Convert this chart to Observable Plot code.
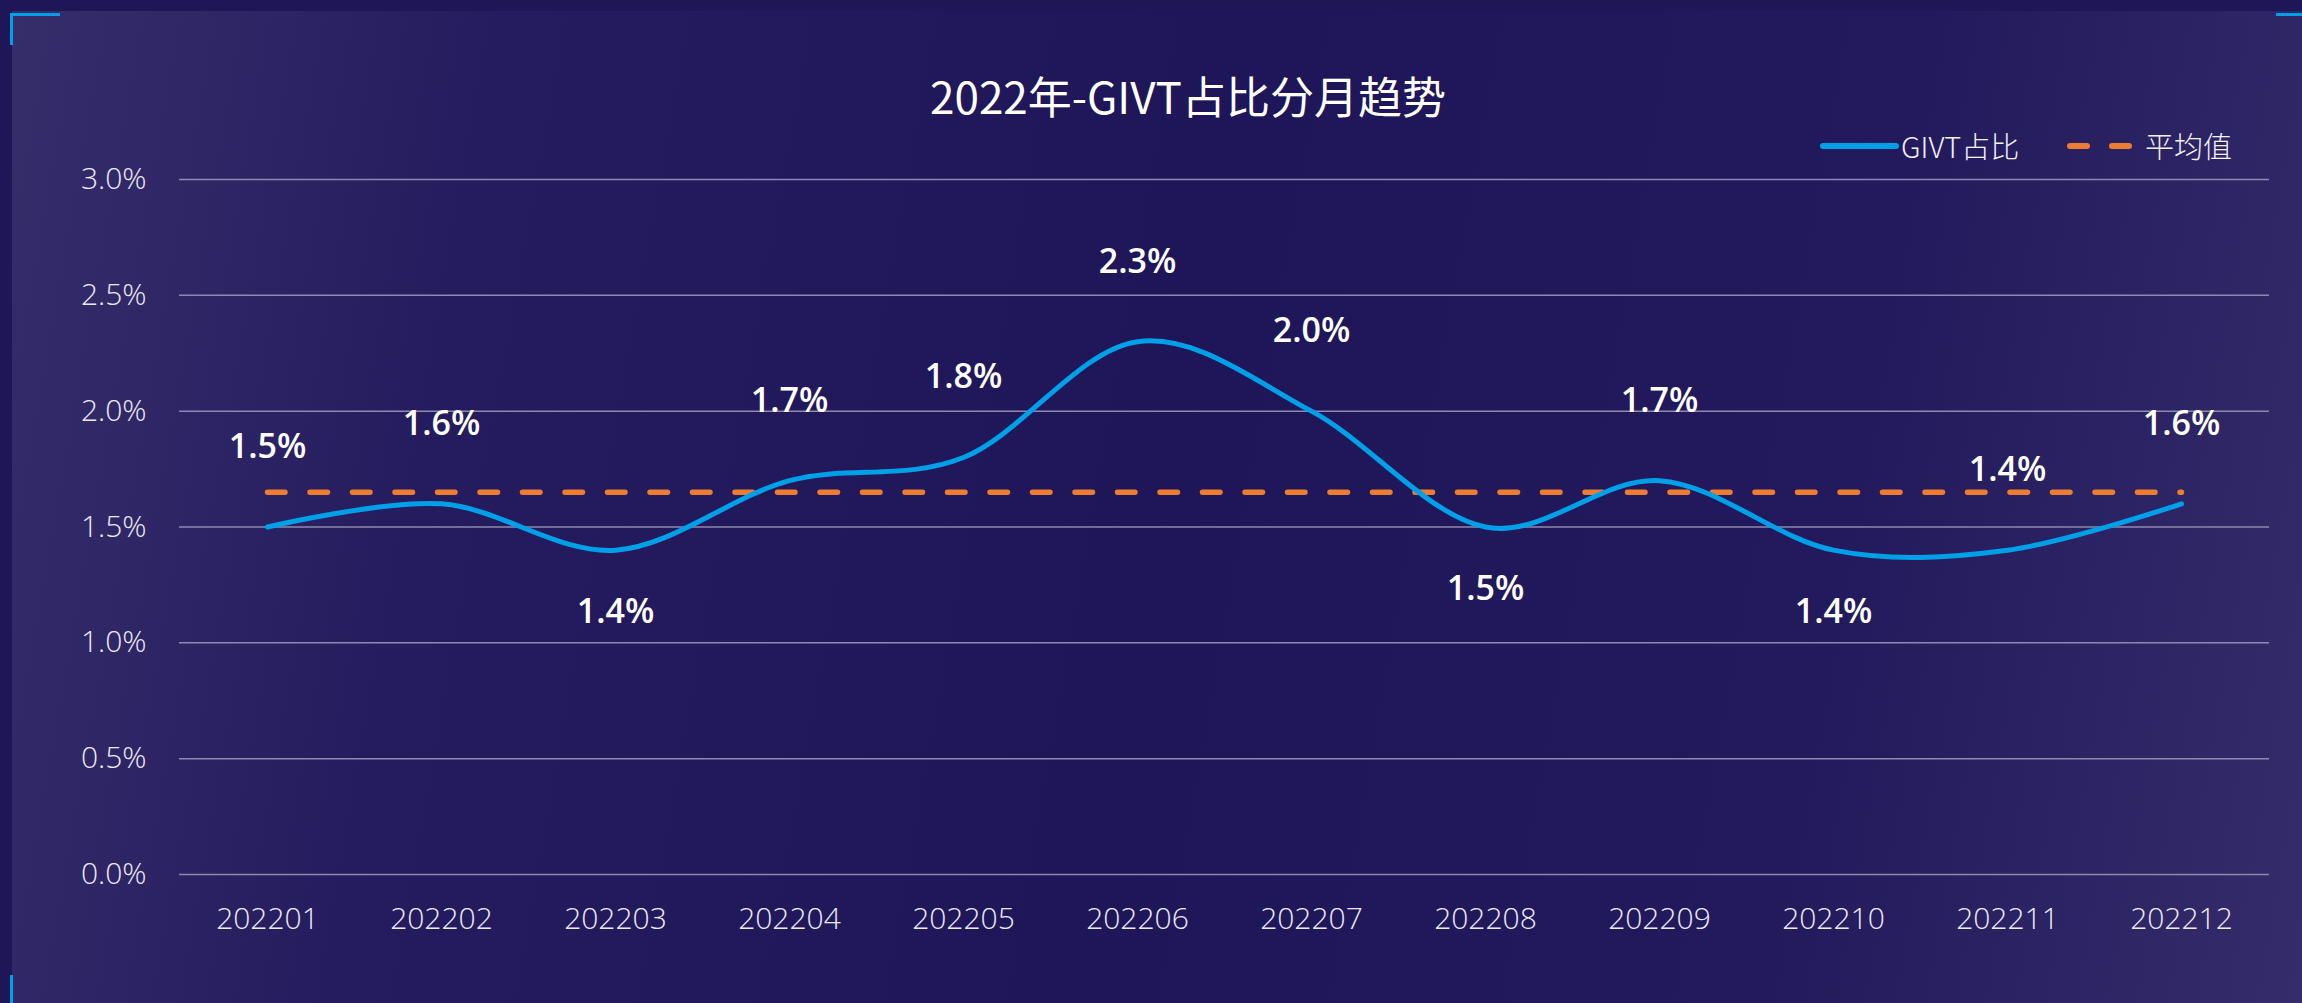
<!DOCTYPE html>
<html>
<head>
<meta charset="utf-8">
<script src="https://cdn.jsdelivr.net/npm/d3@7"></script>
<script src="https://cdn.jsdelivr.net/npm/@observablehq/plot@0.6"></script>
<style>
html, body { margin: 0; padding: 0; }
body { width: 2302px; height: 1003px; background: #1f1658; position: relative; overflow: hidden;
       font-family: "Open Sans", "Noto Sans CJK SC", sans-serif; }
#panel { position: absolute; left: 12px; top: 11px; width: 2290px; height: 992px;
         background: linear-gradient(100deg, #362e6b 0%, #241c5e 20%, #1e1658 50%, #221a5c 78%, #352c6b 100%); }
.br { position: absolute; background: #009fe8; }
#title { position: absolute; top: 73px; left: 1188px; transform: translateX(-50%); white-space: nowrap;
         color: #ffffff; font-size: 44px; line-height: 44px; font-family: "Noto Sans CJK SC", sans-serif; font-weight: 400; }
.lg { position: absolute; top: 131px; height: 29px; line-height: 29px; font-size: 29px; color: #f2f1f8;
      font-family: "Noto Sans CJK SC", sans-serif; font-weight: 300; white-space: nowrap; }
.sw { position: absolute; }
#chart { position: absolute; left: 0; top: 120px; }
</style>
</head>
<body>
<div id="panel"></div>
<div class="br" style="left:10px;top:13px;width:50px;height:2.5px"></div>
<div class="br" style="left:10px;top:13px;width:2.5px;height:32px"></div>
<div class="br" style="left:2276px;top:13px;width:26px;height:2.5px"></div>
<div class="br" style="left:10px;top:975px;width:2.5px;height:28px"></div>
<div id="title"></div>
<div id="legend"></div>
<div id="chart"></div>
<script>
const titleText = "2022年-GIVT占比分月趋势";
const seriesNames = ["GIVT占比", "平均值"];
const months = ["202201", "202202", "202203", "202204", "202205", "202206",
                "202207", "202208", "202209", "202210", "202211", "202212"];
const givt = [1.5, 1.6, 1.4, 1.7, 1.8, 2.3, 2.0, 1.5, 1.7, 1.4, 1.4, 1.6];
const average = 1.65;
const labelSide = ["top", "top", "bottom", "top", "top", "top", "top", "bottom", "top", "bottom", "top", "top"];
const yTicks = [0, 0.5, 1.0, 1.5, 2.0, 2.5, 3.0];

const blue = "#00a0e9";
const orange = "#ed7d31";

document.getElementById("title").textContent = titleText;

// legend
const legend = document.getElementById("legend");
legend.innerHTML = `
  <svg class="sw" style="left:1820px;top:140px" width="80" height="12">
    <line x1="3" y1="6" x2="76" y2="6" stroke="${blue}" stroke-width="6" stroke-linecap="round"/>
  </svg>
  <div class="lg" style="left:1901px">${seriesNames[0]}</div>
  <svg class="sw" style="left:2064px;top:140px" width="72" height="12">
    <line x1="6" y1="6" x2="66" y2="6" stroke="${orange}" stroke-width="6" stroke-linecap="round" stroke-dasharray="17 25"/>
  </svg>
  <div class="lg" style="left:2145px">${seriesNames[1]}</div>`;

const rows = months.map((m, i) => ({month: m, value: givt[i], side: labelSide[i]}));
const fmt = d => d.toFixed(1) + "%";

const chart = Plot.plot({
  width: 2302,
  height: 883,
  marginLeft: 179,
  marginRight: 33,
  marginTop: 59,
  marginBottom: 129,
  style: {background: "transparent", overflow: "visible", fontFamily: "'Open Sans', 'Noto Sans CJK SC', sans-serif"},
  x: {type: "point", domain: months, padding: 0.5},
  y: {domain: [0, 3]},
  marks: [
    Plot.ruleY(yTicks, {stroke: "#8e89ae", strokeWidth: 1.5}),
    Plot.axisY(yTicks, {tickSize: 0, tickPadding: 33, tickFormat: fmt, fontSize: 30, fontWeight: 300, fill: "#eceaf4", label: null}),
    Plot.axisX(months, {tickSize: 0, tickPadding: 33, fontSize: 30, fontWeight: 300, fill: "#eceaf4", label: null}),
    Plot.line(rows, {x: "month", y: () => average, stroke: orange, strokeWidth: 5.5,
                     strokeDasharray: "17.5 25", strokeLinecap: "round"}),
    Plot.line(rows, {x: "month", y: "value", curve: "cardinal", tension: 0, stroke: blue,
                     strokeWidth: 5, strokeLinecap: "round"}),
    Plot.text(rows.filter(d => d.side === "top"), {x: "month", y: "value", dy: -80, text: d => fmt(d.value),
                     fill: "#ffffff", fontSize: 34, fontWeight: 600}),
    Plot.text(rows.filter(d => d.side === "bottom"), {x: "month", y: "value", dy: 62, text: d => fmt(d.value),
                     fill: "#ffffff", fontSize: 34, fontWeight: 600})
  ]
});
document.getElementById("chart").appendChild(chart);
</script>
</body>
</html>
